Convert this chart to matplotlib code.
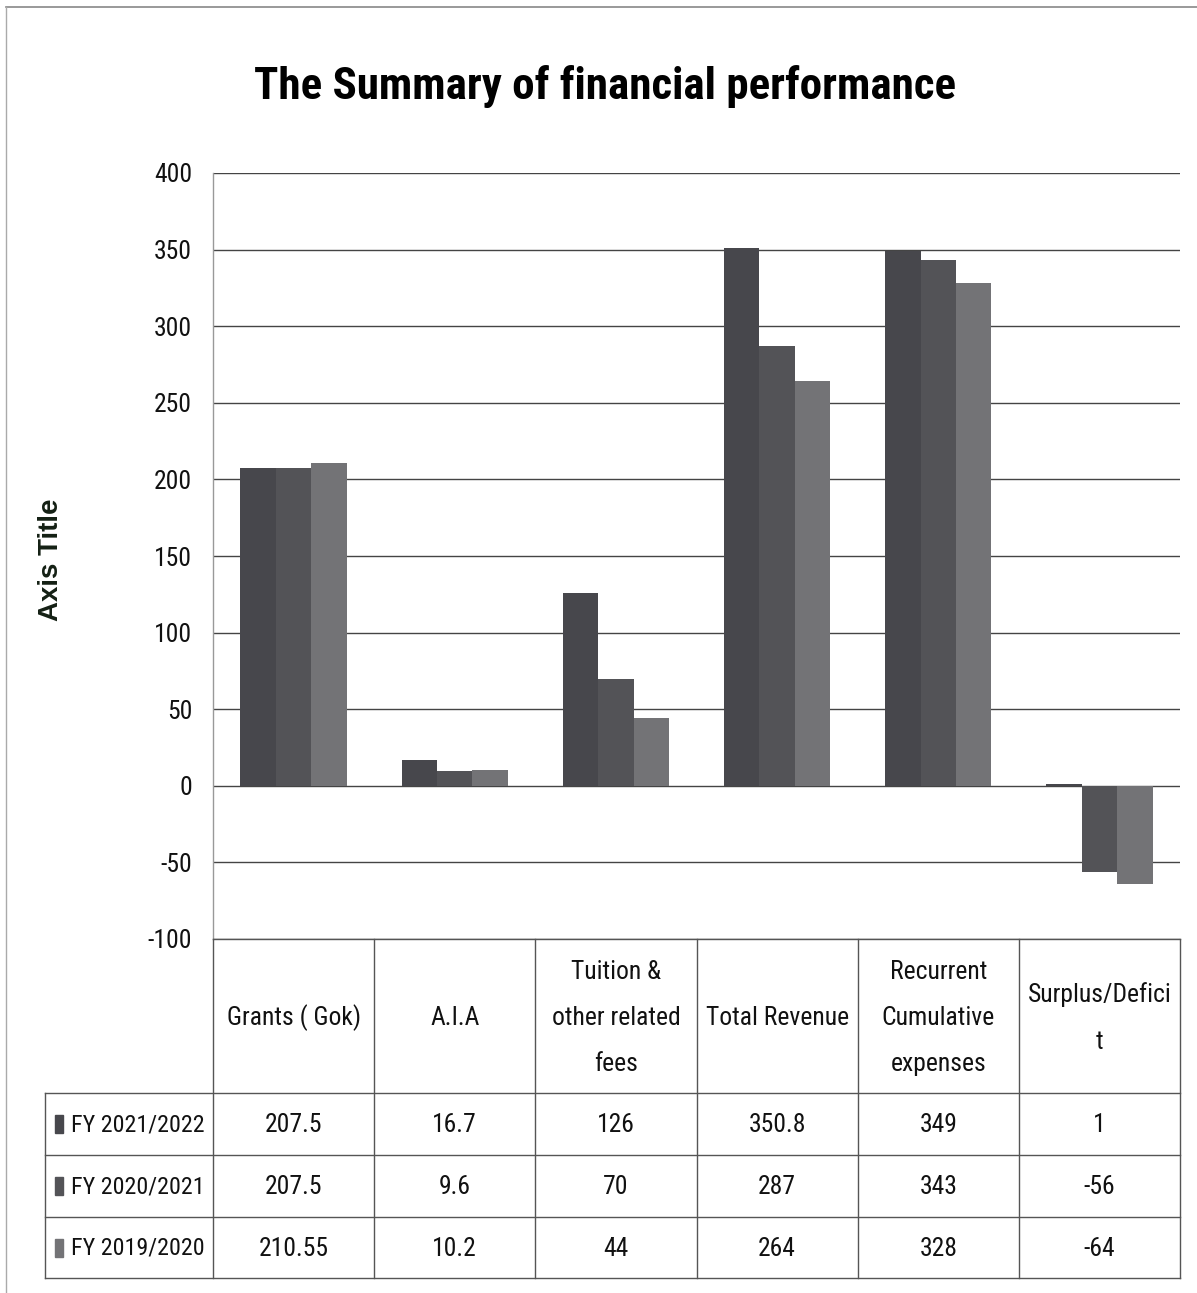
import matplotlib
matplotlib.use("Agg")
import matplotlib.pyplot as plt
from matplotlib.lines import Line2D
from matplotlib.patches import Rectangle
from matplotlib import font_manager as fm
import numpy as np

# ---- data ----
categories = ["Grants ( Gok)", "A.I.A", "Tuition &\nother related\nfees", "Total Revenue",
              "Recurrent\nCumulative\nexpenses", "Surplus/Defici\nt"]
series_names = ["FY 2021/2022", "FY 2020/2021", "FY 2019/2020"]
fy_2021_2022 = [207.5, 16.7, 126, 350.8, 349, 1]
fy_2020_2021 = [207.5, 9.6, 70, 287, 343, -56]
fy_2019_2020 = [210.55, 10.2, 44, 264, 328, -64]
series_values = [fy_2021_2022, fy_2020_2021, fy_2019_2020]
y_ticks = [-100, -50, 0, 50, 100, 150, 200, 250, 300, 350, 400]

colors = ["#47474c", "#535357", "#737376"]

# ---- pick a narrow font if one exists ----
entries = fm.fontManager.ttflist
def has(name, stretches=None):
    for f in entries:
        if f.name == name and (stretches is None or f.stretch in stretches):
            return True
    return False

cond = ("condensed", "semi-condensed", "extra-condensed", "ultra-condensed")
if has("Liberation Sans Narrow"):
    FK = dict(family=["Liberation Sans Narrow", "DejaVu Sans"], stretch="normal")
elif has("Roboto Condensed"):
    FK = dict(family=["Roboto Condensed", "DejaVu Sans"], stretch="normal")
elif has("Open Sans Condensed"):
    FK = dict(family=["Open Sans Condensed", "DejaVu Sans"], stretch="normal")
elif has("Noto Sans", cond):
    FK = dict(family=["Noto Sans", "DejaVu Sans"], stretch="condensed")
elif has("DejaVu Sans", cond):
    FK = dict(family=["DejaVu Sans"], stretch="condensed")
elif has("Lato"):
    FK = dict(family=["Lato", "DejaVu Sans"], stretch="normal")
else:
    FK = dict(family=["DejaVu Sans"], stretch="normal")

plt.rcParams['font.family'] = FK["family"]
plt.rcParams['font.stretch'] = FK["stretch"]

W, H = 1197, 1293
fig = plt.figure(figsize=(W / 100, H / 100), dpi=100)
fig.patch.set_facecolor("white")
renderer = fig.canvas.get_renderer()

def measure(s, size, **kw):
    t = fig.text(0, 0, s, fontsize=size, **kw)
    bb = t.get_window_extent(renderer)
    t.remove()
    return bb.width, bb.height

def fit_size(s, target_w, max_size, **kw):
    w, _ = measure(s, 10, **kw)
    return min(max_size, 10 * target_w / w)

body = fit_size("Total Revenue", 142, 21.5, **FK)
title_size = fit_size("The Summary of financial performance", 700, 46, fontweight="bold", **FK)
axt_size = fit_size("Axis Title", 130, 20, fontweight="bold", family=["Liberation Sans", "DejaVu Sans"])

def fx(px):
    return px / W

def fy(py):
    return 1 - py / H

def hline(x0, x1, y, color="#555555", lw=1.0):
    fig.add_artist(Line2D([fx(x0), fx(x1)], [fy(y), fy(y)], color=color, lw=lw, transform=fig.transFigure))

def vline(x, y0, y1, color="#555555", lw=1.0):
    fig.add_artist(Line2D([fx(x), fx(x)], [fy(y0), fy(y1)], color=color, lw=lw, transform=fig.transFigure))

# outer border
hline(6, 1197, 7, color="#888888", lw=1.2)
vline(6, 7, 1293, color="#aaaaaa", lw=1.0)

# plot area
L, R, T, B = 213, 1180, 173, 939
ax = fig.add_axes([fx(L), fy(B), fx(R) - fx(L), fy(T) - fy(B)])
n = len(categories)
x = np.arange(n)
bw = 0.22
for i, (vals, c) in enumerate(zip(series_values, colors)):
    ax.bar(x + (i - 1) * bw, vals, width=bw, color=c, edgecolor="none", zorder=3)

ax.set_xlim(-0.5, n - 0.5)
ax.set_ylim(-100, 400)
ax.set_yticks(y_ticks)
ax.set_yticklabels([str(t) for t in y_ticks], fontsize=body, color="#111111", **FK)
ax.tick_params(axis="y", length=0, pad=15)
ax.set_xticks([])
ax.grid(axis="y", color="#444444", lw=1.0, zorder=0)
for s in ["top", "right", "bottom"]:
    ax.spines[s].set_visible(False)
ax.spines["left"].set_color("#999999")
ax.spines["left"].set_linewidth(1.0)

# axis title
fig.text(fx(51), fy(560), "Axis Title", rotation=90, ha="center", va="center",
         fontsize=axt_size, fontweight="bold", color="#142014", family=["Liberation Sans", "DejaVu Sans"])

# title
fig.text(fx(605), fy(87), "The Summary of financial performance", ha="center", va="center",
         fontsize=title_size, fontweight="bold", color="#000000", **FK)

# ---- data table ----
col_edges = np.linspace(L, R, n + 1)
header_top, header_bot = 939, 1093
row_edges = [1093, 1155, 1217, 1278]
tleft = 45
lc = "#555555"
for xe in col_edges:
    vline(xe, header_top, row_edges[-1], color=lc)
hline(L, R, header_top, color=lc)
for ye in row_edges:
    hline(tleft, R, ye, color=lc)
vline(tleft, row_edges[0], row_edges[-1], color=lc)

_, lh = measure("lp", body, **FK)
lsp = 47.5 / lh * 1.1

for j, cat in enumerate(categories):
    cx = (col_edges[j] + col_edges[j + 1]) / 2
    fig.text(fx(cx), fy((header_top + header_bot) / 2 + 2), cat, ha="center", va="center",
             fontsize=body, linespacing=lsp, color="#111111", **FK)

row_size = fit_size("FY 2021/2022", 132, body, **FK)
for i, (name, vals, c) in enumerate(zip(series_names, series_values, colors)):
    cy = (row_edges[i] + row_edges[i + 1]) / 2
    fig.add_artist(Rectangle((fx(55), fy(cy + 9)), fx(8), 18 / H, color=c, transform=fig.transFigure))
    fig.text(fx(71), fy(cy + 1), name, ha="left", va="center", fontsize=row_size, color="#111111", **FK)
    for j, v in enumerate(vals):
        cx = (col_edges[j] + col_edges[j + 1]) / 2
        fig.text(fx(cx), fy(cy + 1), f"{v:g}", ha="center", va="center", fontsize=body,
                 color="#111111", **FK)

fig.savefig("out.png", dpi=100, facecolor="white")
